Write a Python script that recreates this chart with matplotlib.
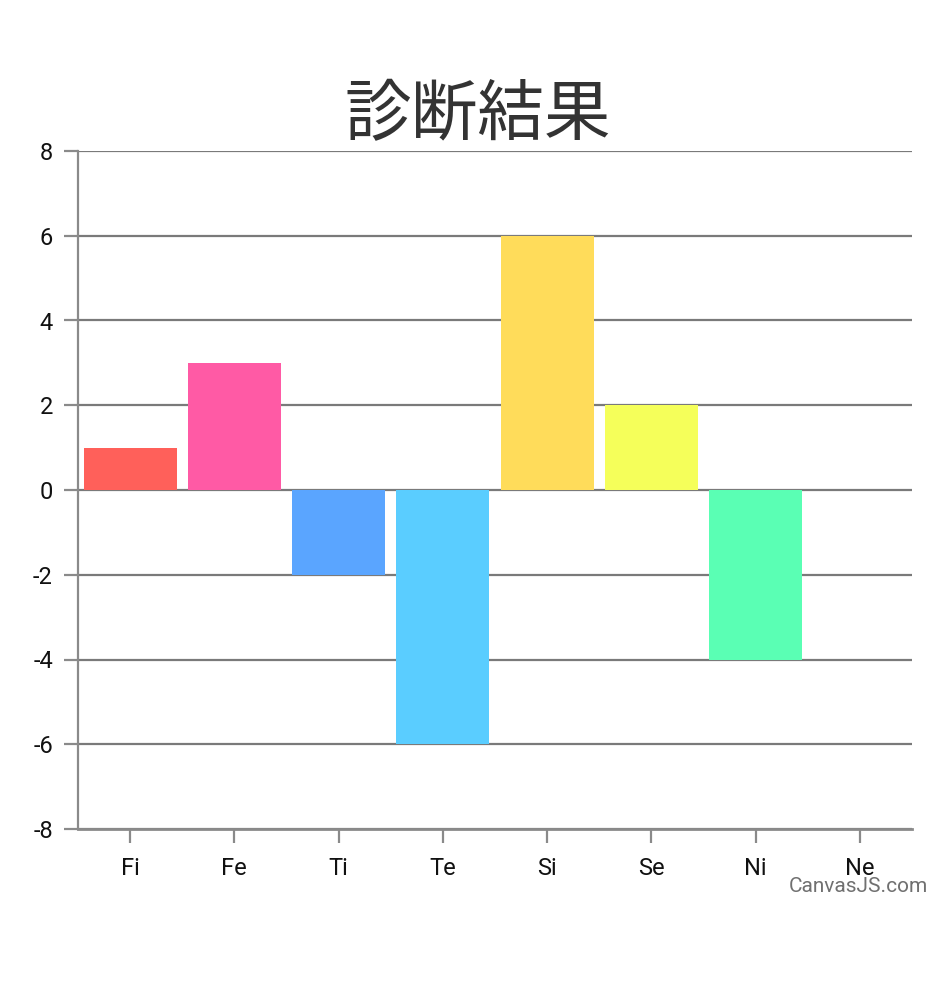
import matplotlib
matplotlib.use("Agg")
import matplotlib.pyplot as plt

categories = ["Fi", "Fe", "Ti", "Te", "Si", "Se", "Ni", "Ne"]
values = [1, 3, -2, -6, 6, 2, -4, 0]
colors = ["#FF605A", "#FF5AA5", "#5AA5FF", "#5ACDFF", "#FFDC5A", "#F5FF5A", "#5AFFB4", "#FFFFFF"]
yticks = [-8, -6, -4, -2, 0, 2, 4, 6, 8]
title = "診断結果"

fig = plt.figure(figsize=(9.28, 9.99), dpi=100)
ax = fig.add_axes([78/928, 1-829/999, (912-78)/928, (829-151)/999])

x = list(range(len(categories)))
ax.bar(x, values, width=0.89, color=colors, zorder=3, linewidth=0)
ax.set_xlim(-0.5, len(categories) - 0.5)
ax.set_ylim(-8, 8)
ax.set_yticks(yticks)
ax.set_yticklabels([str(v) for v in yticks])
ax.set_xticks(x)
ax.set_xticklabels(categories)
ax.yaxis.grid(True, color="#7a7a7a", linewidth=1.6, zorder=1)
ax.set_axisbelow(True)
for s in ["top", "right"]:
    ax.spines[s].set_visible(False)
ax.spines["left"].set_color("#8a8a8a")
ax.spines["left"].set_linewidth(1.6)
ax.spines["bottom"].set_color("#8a8a8a")
ax.spines["bottom"].set_linewidth(2)
ax.tick_params(axis="y", length=10, width=1.6, color="#8a8a8a", labelsize=17, pad=8, labelcolor="#111111")
ax.tick_params(axis="x", length=10, width=1.6, color="#8a8a8a", labelsize=17, pad=10, labelcolor="#111111")
for lbl in ax.get_xticklabels() + ax.get_yticklabels():
    lbl.set_fontfamily("Roboto")

fig.text(478/928, 1-116/999, title, ha="center", va="center", fontsize=48,
         color="#333333", family=["Noto Sans CJK JP", "DejaVu Sans"])
fig.text(1.0, 1-886/999, "CanvasJS.com", ha="right", va="center", fontsize=15,
         color="#707070", family="Roboto")

fig.savefig("out.png", dpi=100)
